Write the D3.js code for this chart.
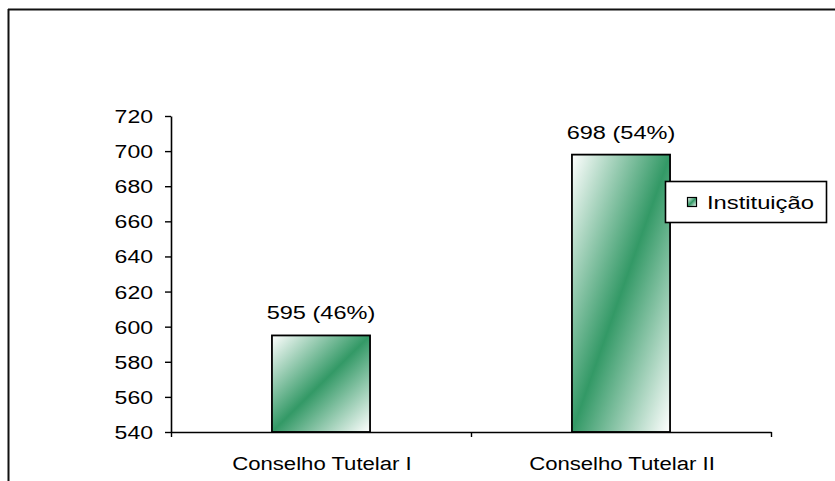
<!DOCTYPE html>
<html>
<head>
<meta charset="utf-8">
<script src="https://cdn.jsdelivr.net/npm/d3@7"></script>
<style>
  html, body { margin: 0; padding: 0; background: #fff; }
  svg { display: block; }
  text { font-family: "Liberation Sans", Arial, sans-serif; fill: #000; }
</style>
</head>
<body>
<svg id="chart" width="835" height="481"></svg>
<script>
// ---- data ----
const categories = ["Conselho Tutelar I", "Conselho Tutelar II"];
const values = [595, 698];
const percents = ["46%", "54%"];
const yTicks = [540, 560, 580, 600, 620, 640, 660, 680, 700, 720];
const seriesName = "Instituição";

// ---- layout ----
const W = 835, H = 481;
const plot = { left: 171, right: 771, top: 116, bottom: 432 };
const green = "#339966";

const svg = d3.select("#chart");

const defs = svg.append("defs");
const grad = defs.append("linearGradient")
  .attr("id", "barGrad")
  .attr("x1", 0).attr("y1", 0).attr("x2", 1).attr("y2", 1);
grad.append("stop").attr("offset", 0).attr("stop-color", "#ffffff");
grad.append("stop").attr("offset", 0.5).attr("stop-color", green);
grad.append("stop").attr("offset", 1).attr("stop-color", "#ffffff");

// outer chart-area border (only top and left visible)
svg.append("line").attr("x1", 8).attr("x2", W).attr("y1", 9.5).attr("y2", 9.5)
  .attr("stroke", "#111").attr("stroke-width", 2);
svg.append("line").attr("x1", 8.5).attr("x2", 8.5).attr("y1", 9).attr("y2", H)
  .attr("stroke", "#111").attr("stroke-width", 2);

// scales
const y = d3.scaleLinear().domain([540, 720]).range([plot.bottom, plot.top]);
const x = d3.scaleBand().domain(categories)
  .range([plot.left, plot.right])
  .paddingInner(0.673).paddingOuter(0.3365);
const xEdge = d3.scaleLinear().domain([0, categories.length]).range([plot.left, plot.right]);

function stretchText(sel, xs, ys, k) {
  sel.attr("x", xs / k).attr("y", ys)
     .attr("transform", `scale(${k},1)`);
}

// bars
svg.append("g").selectAll("rect")
  .data(values)
  .join("rect")
  .attr("x", (d, i) => x(categories[i]))
  .attr("width", x.bandwidth())
  .attr("y", d => y(d))
  .attr("height", d => y(540) - y(d))
  .attr("fill", "url(#barGrad)")
  .attr("stroke", "#000")
  .attr("stroke-width", 1.8);

// y axis
const kTick = 1.28;
const yAxis = svg.append("g")
  .attr("transform", `translate(${plot.left},0)`)
  .call(d3.axisLeft(y).tickValues(yTicks).tickSize(6).tickSizeOuter(0).tickFormat(d3.format("d")));
yAxis.select(".domain").attr("stroke", "#000").attr("stroke-width", 1.6);
yAxis.selectAll(".tick line").attr("stroke", "#000").attr("stroke-width", 1.4);
yAxis.selectAll(".tick text")
  .attr("font-size", 18)
  .attr("font-family", "Liberation Sans, Arial, sans-serif")
  .attr("fill", "#000")
  .attr("x", -18 / kTick)
  .attr("dy", "0.36em")
  .attr("transform", `scale(${kTick},1)`);

// x axis (ticks at category boundaries)
const xAxis = svg.append("g")
  .attr("transform", `translate(0,${plot.bottom})`)
  .call(d3.axisBottom(xEdge).tickValues(d3.range(categories.length + 1)).tickSize(5).tickSizeOuter(0).tickFormat(""));
xAxis.select(".domain").attr("stroke", "#000").attr("stroke-width", 1.6);
xAxis.selectAll(".tick line").attr("stroke", "#000").attr("stroke-width", 1.4);

// category labels
svg.append("g").selectAll("text")
  .data(categories)
  .join("text")
  .attr("font-size", 18)
  .attr("text-anchor", "middle")
  .each(function(d) {
    stretchText(d3.select(this), x(d) + x.bandwidth() / 2 + 1, 470, 1.23);
  })
  .text(d => d);

// value labels
svg.append("g").selectAll("text")
  .data(values)
  .join("text")
  .attr("font-size", 19)
  .attr("text-anchor", "middle")
  .each(function(d, i) {
    stretchText(d3.select(this), x(categories[i]) + x.bandwidth() / 2, y(d) - 16, 1.24);
  })
  .text((d, i) => `${d} (${percents[i]})`);

// legend
const lg = svg.append("g");
lg.append("rect")
  .attr("x", 665.5).attr("y", 181.5).attr("width", 161).attr("height", 41)
  .attr("fill", "#fff").attr("stroke", "#000").attr("stroke-width", 1.6);
lg.append("rect")
  .attr("x", 687.5).attr("y", 197.5).attr("width", 9).attr("height", 9)
  .attr("fill", "url(#barGrad)").attr("stroke", "#000").attr("stroke-width", 1.2);
lg.append("text")
  .attr("font-size", 19)
  .call(s => stretchText(s, 707, 209, 1.25))
  .text(seriesName);
</script>
</body>
</html>
